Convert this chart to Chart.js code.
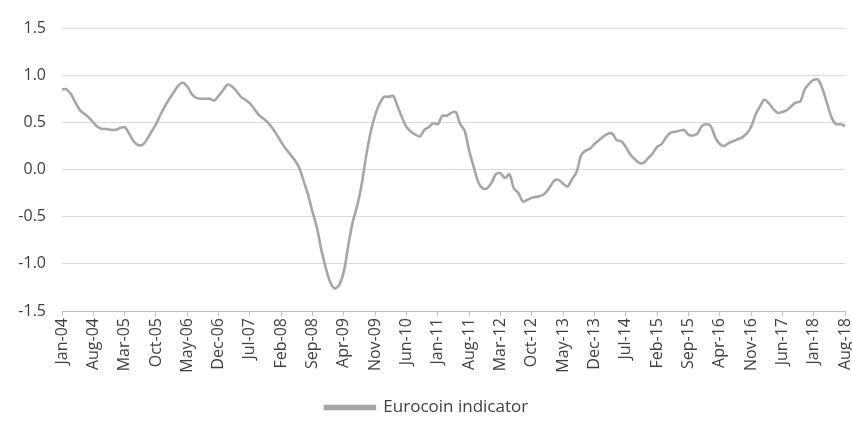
<!DOCTYPE html>
<html>
<head>
<meta charset="utf-8">
<script src="https://cdn.jsdelivr.net/npm/chart.js@4/dist/chart.umd.min.js"></script>
<style>
  html, body { margin: 0; padding: 0; background: #fff; }
  #wrap { width: 852px; height: 428px; }
</style>
</head>
<body>
<div id="wrap"><canvas id="chart" width="852" height="428"></canvas></div>
<script>
// monthly, Jan-04 .. Aug-18
const monthNames = ['Jan', 'Feb', 'Mar', 'Apr', 'May', 'Jun', 'Jul', 'Aug', 'Sep', 'Oct', 'Nov', 'Dec'];
const firstYear = 2004;
const monthCount = 176;
const labelEvery = 7;

const eurocoin = [
  0.85, 0.85, 0.80, 0.71, 0.63, 0.59, 0.55, 0.50, 0.45, 0.43, 0.43, 0.42,
  0.42, 0.44, 0.45, 0.38, 0.30, 0.26, 0.26, 0.32, 0.40, 0.48, 0.58, 0.67,
  0.75, 0.82, 0.89, 0.92, 0.88, 0.80, 0.76, 0.75, 0.75, 0.75, 0.73, 0.78,
  0.84, 0.90, 0.88, 0.83, 0.77, 0.74, 0.70, 0.64, 0.58, 0.54, 0.50, 0.44,
  0.37, 0.29, 0.22, 0.16, 0.10, 0.02, -0.12, -0.27, -0.45, -0.62, -0.86, -1.05,
  -1.20, -1.26, -1.22, -1.08, -0.80, -0.55, -0.38, -0.15, 0.15, 0.40, 0.58, 0.70,
  0.77, 0.77, 0.78, 0.67, 0.55, 0.45, 0.40, 0.37, 0.35, 0.42, 0.45, 0.49,
  0.48, 0.57, 0.57, 0.60, 0.61, 0.48, 0.41, 0.20, 0.03, -0.13, -0.20, -0.20,
  -0.14, -0.05, -0.04, -0.09, -0.05, -0.20, -0.25, -0.34, -0.32, -0.30, -0.29, -0.28,
  -0.25, -0.19, -0.12, -0.11, -0.15, -0.18, -0.10, -0.03, 0.15, 0.20, 0.22, 0.27,
  0.31, 0.35, 0.38, 0.38, 0.31, 0.30, 0.24, 0.16, 0.11, 0.07, 0.07, 0.12,
  0.17, 0.24, 0.27, 0.34, 0.39, 0.40, 0.41, 0.42, 0.37, 0.36, 0.38, 0.46,
  0.48, 0.46, 0.34, 0.27, 0.25, 0.28, 0.30, 0.32, 0.34, 0.38, 0.45, 0.58,
  0.67, 0.74, 0.70, 0.64, 0.60, 0.61, 0.63, 0.67, 0.71, 0.72, 0.85, 0.91,
  0.95, 0.95, 0.85, 0.70, 0.55, 0.48, 0.48, 0.46
];

const yTicks = [-1.5, -1.0, -0.5, 0.0, 0.5, 1.0, 1.5];

const labels = [];
for (let i = 0; i < monthCount; i++) {
  const yy = String((firstYear + Math.floor(i / 12)) % 100).padStart(2, '0');
  labels.push(monthNames[i % 12] + '-' + yy);
}

const textColor = '#404040';
const fontFamily = '"Open Sans", sans-serif';

new Chart(document.getElementById('chart').getContext('2d'), {
  type: 'line',
  data: {
    labels: labels,
    datasets: [{
      label: 'Eurocoin indicator',
      data: eurocoin,
      borderColor: '#a6a6a6',
      backgroundColor: '#a6a6a6',
      borderWidth: 2.6,
      pointRadius: 0,
      tension: 0.3,
      fill: false
    }]
  },
  options: {
    responsive: false,
    animation: false,
    devicePixelRatio: 1,
    layout: {
      padding: { left: 8, right: 7, top: 28, bottom: 2 }
    },
    plugins: {
      legend: {
        position: 'bottom',
        labels: {
          color: textColor,
          font: { family: fontFamily, size: 17 },
          boxWidth: 50,
          boxHeight: 3,
          padding: 10
        }
      },
      tooltip: { enabled: false }
    },
    scales: {
      x: {
        offset: false,
        afterFit: function(scale) {
          scale.height = 78;
          scale.paddingRight = 0;
          scale.paddingLeft = 0;
        },
        grid: {
          drawOnChartArea: false,
          drawTicks: true,
          tickLength: 5,
          color: '#bfbfbf'
        },
        border: { display: true, color: '#bfbfbf' },
        ticks: {
          autoSkip: false,
          maxRotation: 90,
          minRotation: 90,
          color: textColor,
          font: { family: fontFamily, size: 16 },
          padding: 2,
          callback: function(value, index) {
            return index % labelEvery === 0 ? labels[index] : null;
          }
        }
      },
      y: {
        min: -1.5,
        max: 1.5,
        afterFit: function(scale) {
          scale.width = 54;
          scale.paddingTop = 0;
        },
        afterBuildTicks: function(scale) {
          scale.ticks = yTicks.map(v => ({ value: v }));
        },
        grid: {
          color: '#d9d9d9',
          drawTicks: false
        },
        border: { display: false },
        ticks: {
          color: textColor,
          font: { family: fontFamily, size: 16 },
          padding: 16,
          callback: function(value) {
            return value.toFixed(1);
          }
        }
      }
    }
  }
});
</script>
</body>
</html>
